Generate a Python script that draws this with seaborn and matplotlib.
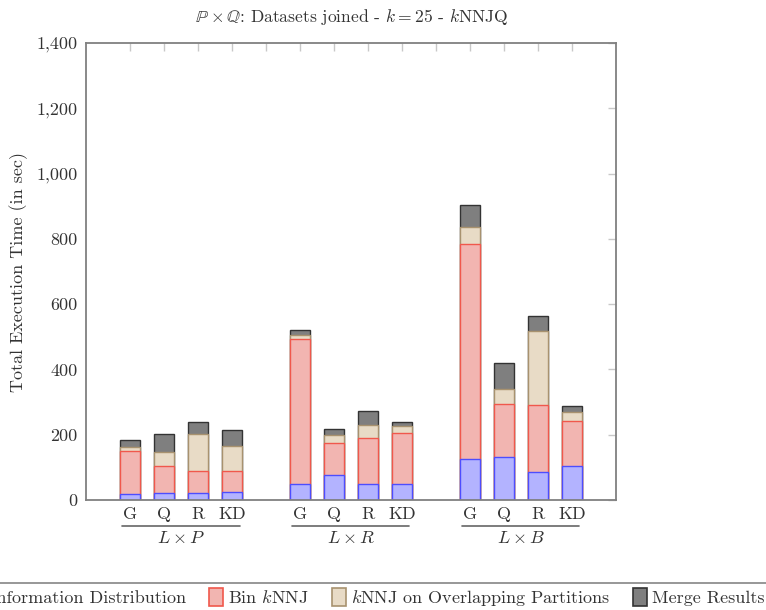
import numpy as np
import pandas as pd
import matplotlib
matplotlib.use("Agg")
import matplotlib.pyplot as plt
from matplotlib.ticker import FuncFormatter
from matplotlib.patches import Patch
import seaborn as sns

# ---- data -------------------------------------------------------------
groups = [r"$L \times P$", r"$L \times R$", r"$L \times B$"]
methods = ["G", "Q", "R", "KD"]
stages = ["Information Distribution", r"Bin $k$NNJ",
          r"$k$NNJ on Overlapping Partitions", "Merge Results"]

# seconds per stage, one entry per bar (G, Q, R, KD) for each group in turn
info_dist = [19, 20, 21, 23, 50, 78, 50, 48, 125, 133, 87, 104]
bin_knnj = [131, 84, 67, 66, 443, 96, 139, 156, 659, 160, 204, 139]
overlap_knnj = [13, 44, 113, 75, 12, 25, 42, 24, 53, 46, 228, 28]
merge_results = [22, 53, 38, 50, 17, 20, 42, 11, 68, 80, 45, 17]

yticks = [0, 200, 400, 600, 800, 1000, 1200, 1400]

# ---- style ------------------------------------------------------------
sns.set_theme(style="white")
plt.rcParams["font.family"] = ["cmr10", "DejaVu Serif"]
plt.rcParams["mathtext.fontset"] = "cm"
plt.rcParams["axes.formatter.use_mathtext"] = True

fills = ["#b3b3ff", "#f2b5b1", "#e8dbc6", "#7f7f7f"]
edges = ["#4d4dff", "#f0584c", "#a8926f", "#333333"]

# slot positions: four bars per group with one empty slot between groups
positions = []
for g in range(len(groups)):
    positions += [g * 5 + i for i in range(len(methods))]
labels = methods * len(groups)

df = pd.DataFrame({
    "pos": positions,
    "label": labels,
    "s0": info_dist,
    "s1": bin_knnj,
    "s2": overlap_knnj,
    "s3": merge_results,
})
df["c0"] = df["s0"]
df["c1"] = df["c0"] + df["s1"]
df["c2"] = df["c1"] + df["s2"]
df["c3"] = df["c2"] + df["s3"]

fig = plt.figure(figsize=(7.66, 6.10), dpi=100)
ax = fig.add_axes([86 / 766, 1 - 500 / 610, 530 / 766, 457 / 610])

# draw cumulative totals from the top stage down so lower segments overlay
for k in [3, 2, 1, 0]:
    sns.barplot(data=df, x="pos", y=f"c{k}", native_scale=True, orient="x",
                width=0.57, color=fills[k], saturation=1, edgecolor=edges[k],
                linewidth=1.0, errorbar=None, ax=ax, zorder=2)

ax.set_xlim(-1.3, 14.3)
ax.set_ylim(0, 1400)
ax.set_xlabel("")
ax.set_ylabel("")

# ticks on every slot, labels only below the bars
slots = list(range(0, 14))
ax.set_xticks(slots)
ax.set_xticklabels([labels[positions.index(s)] if s in positions else "" for s in slots],
                   fontsize=13)
ax.set_yticks(yticks)
ax.yaxis.set_major_formatter(FuncFormatter(lambda v, _: f"{v:,.0f}"))
ax.tick_params(axis="y", labelsize=13)
ax.tick_params(axis="both", which="major", direction="in", length=6,
               width=1, color="#c8c8c8", top=True, right=True, pad=5,
               labelcolor="#333333")
ax.tick_params(axis="y", pad=6)
for sp in ax.spines.values():
    sp.set_color("#808080")
    sp.set_linewidth(1.3)
    sp.set_zorder(3)

# group captions with a rule beneath the method labels
xtr = ax.get_xaxis_transform()
for g, name in enumerate(groups):
    x0 = g * 5 - 0.24
    x1 = g * 5 + 3.22
    ax.plot([x0, x1], [-26 / 457, -26 / 457], transform=xtr, color="#666666",
            lw=1.2, clip_on=False)
    ax.text(g * 5 + 1.5, -38 / 457, name, transform=xtr, ha="center",
            va="center", fontsize=13, color="#333333")

fig.text(352 / 766, 1 - 17 / 610,
         r"$\mathbb{P} \times \mathbb{Q}$: Datasets joined - $k = 25$ - $k$NNJQ",
         ha="center", va="center", fontsize=12.6, color="#333333")
fig.text(19 / 766, 1 - 272 / 610, "Total Execution Time (in sec)",
         rotation=90, ha="center", va="center", fontsize=13, color="#333333")

handles = [Patch(facecolor=fills[k], edgecolor=edges[k], linewidth=1.2)
           for k in range(4)]
leg = fig.legend(handles, stages, ncol=4, loc="upper center",
                 bbox_to_anchor=(0.4806, 1 - 583 / 610), frameon=True,
                 fontsize=13, handlelength=0.75, handleheight=1.2,
                 handletextpad=0.3, columnspacing=1.27, borderpad=0.25,
                 borderaxespad=0, fancybox=False)
leg.get_frame().set_edgecolor("#666666")
leg.get_frame().set_linewidth(1.2)
for t in leg.get_texts():
    t.set_color("#333333")

fig.savefig("out.png", dpi=100)
